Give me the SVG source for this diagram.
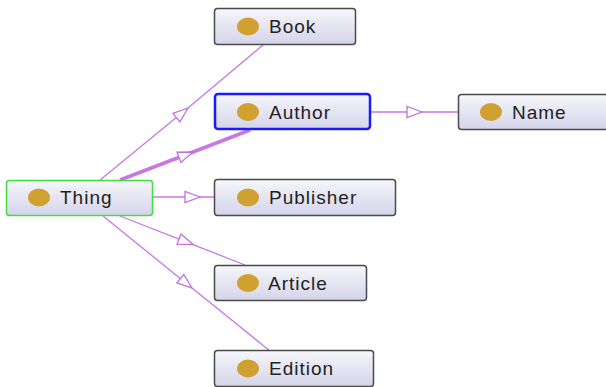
<svg xmlns="http://www.w3.org/2000/svg" width="606" height="387" viewBox="0 0 606 387">
<style>
.box{fill:url(#g);stroke:#4a4a4a;stroke-width:1.5}
.dot{fill:#d0a030}
.lbl{font-family:"Liberation Sans",Arial,sans-serif;font-size:19px;letter-spacing:1px;fill:#222}
.edge{fill:none;stroke:#c878e0;stroke-width:1.3;marker-mid:url(#tri)}
</style>
<defs>
<linearGradient id="g" x1="0" y1="0" x2="0" y2="1">
<stop offset="0" stop-color="#f6f6fb"/>
<stop offset="1" stop-color="#d4d4ea"/>
</linearGradient>
<marker id="tri" markerUnits="userSpaceOnUse" viewBox="-16 -7 18 14" refX="0" refY="0" markerWidth="18" markerHeight="14" orient="auto">
<path d="M0,0 L-15,-5.5 L-15,5.5 Z" fill="#fff" stroke="#c070e0" stroke-width="1.3"/>
</marker>
</defs>
<g id="connectors">
<polyline class="edge" points="100,180 188,108 263,45"/>
<polyline class="edge" points="120,180 193,152 250,130" style="stroke-width:3.5"/>
<polyline class="edge" points="153,197 200,197 214,197"/>
<polyline class="edge" points="120,216 193,244.6 245,265"/>
<polyline class="edge" points="103,216 192,288 270,351"/>
<polyline class="edge" points="371,112 422,112 458,112"/>
</g>
<g id="Thing"><rect class="box" x="6.5" y="180.5" width="146" height="35" rx="3" style="stroke:#44dd44"/><ellipse class="dot" cx="39" cy="197.5" rx="11" ry="9"/><text class="lbl" x="60" y="204">Thing</text></g>
<g id="Book"><rect class="box" x="214.5" y="8.5" width="141" height="36" rx="3"/><ellipse class="dot" cx="248" cy="26.5" rx="11" ry="9"/><text class="lbl" x="269" y="33">Book</text></g>
<g id="Author"><rect class="box" x="215" y="94" width="155" height="35" rx="3" style="stroke:#1a1aff;stroke-width:2.5"/><ellipse class="dot" cx="248" cy="112" rx="11" ry="9"/><text class="lbl" x="269" y="118.5">Author</text></g>
<g id="Name"><rect class="box" x="458.5" y="94.5" width="150" height="35" rx="3"/><ellipse class="dot" cx="491" cy="112" rx="11" ry="9"/><text class="lbl" x="512" y="118.5">Name</text></g>
<g id="Publisher"><rect class="box" x="214.5" y="179.5" width="181" height="36" rx="3"/><ellipse class="dot" cx="248" cy="197.5" rx="11" ry="9"/><text class="lbl" x="269" y="204">Publisher</text></g>
<g id="Article"><rect class="box" x="214.5" y="265.5" width="152" height="35" rx="3"/><ellipse class="dot" cx="248" cy="283" rx="11" ry="9"/><text class="lbl" x="268" y="289.5">Article</text></g>
<g id="Edition"><rect class="box" x="214.5" y="350.5" width="159" height="36" rx="3"/><ellipse class="dot" cx="248" cy="368.5" rx="11" ry="9"/><text class="lbl" x="269" y="375">Edition</text></g>
</svg>
